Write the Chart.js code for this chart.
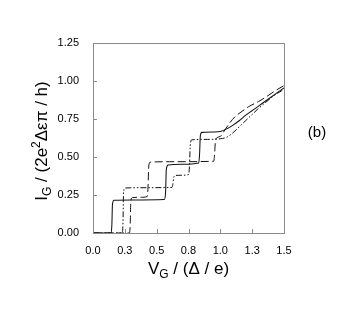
<!DOCTYPE html>
<html>
<head>
<meta charset="utf-8">
<script src="https://cdn.jsdelivr.net/npm/chart.js@4.4.0/dist/chart.umd.min.js"></script>
<style>
html,body{margin:0;padding:0;background:#fff;}
#wrap{width:354px;height:316px;position:relative;}
</style>
</head>
<body>
<div id="wrap"><canvas id="c" width="354" height="316"></canvas></div>
<script>
// ---- data ----
const xTickLabels = ['0.0','0.3','0.5','0.8','1.0','1.3','1.5'];
const yTickLabels = ['0.00','0.25','0.50','0.75','1.00','1.25'];

const solidX = [0, 0.14, 0.148, 0.153, 0.165, 0.3, 0.56, 0.57, 0.576, 0.59, 0.7, 0.83, 0.837, 0.843, 0.855, 0.95, 1.0, 1.05, 1.1, 1.15, 1.2, 1.25, 1.3, 1.35, 1.4, 1.45, 1.5];
const solidY = [0, 0, 0.05, 0.19, 0.215, 0.217, 0.22, 0.27, 0.42, 0.448, 0.452, 0.46, 0.52, 0.64, 0.662, 0.665, 0.668, 0.685, 0.71, 0.74, 0.775, 0.805, 0.835, 0.865, 0.895, 0.925, 0.955];

const dotX = [0, 0.228, 0.235, 0.24, 0.252, 0.4, 0.62, 0.627, 0.633, 0.645, 0.7, 0.752, 0.758, 0.765, 0.777, 0.9, 1.0, 1.05, 1.1, 1.15, 1.2, 1.25, 1.3, 1.35, 1.4, 1.45, 1.5];
const dotY = [0, 0, 0.05, 0.27, 0.296, 0.298, 0.3, 0.32, 0.36, 0.378, 0.38, 0.385, 0.45, 0.59, 0.613, 0.616, 0.62, 0.63, 0.66, 0.70, 0.74, 0.78, 0.82, 0.855, 0.89, 0.92, 0.945];

const dashX = [0, 0.285, 0.292, 0.297, 0.31, 0.38, 0.425, 0.432, 0.438, 0.45, 0.6, 0.948, 0.955, 0.961, 0.975, 1.0, 1.03, 1.07, 1.115, 1.17, 1.22, 1.3, 1.35, 1.42, 1.5];
const dashY = [0, 0, 0.05, 0.21, 0.233, 0.235, 0.24, 0.3, 0.44, 0.466, 0.469, 0.472, 0.52, 0.6, 0.628, 0.635, 0.67, 0.72, 0.765, 0.80, 0.83, 0.865, 0.89, 0.93, 0.97];

const panelLabel = '(b)';

const FONT = '"Liberation Sans", Arial, Helvetica, sans-serif';
const zip = (xs, ys) => xs.map((x, i) => ({x: x, y: ys[i]}));

const frameTicks = {
  id: 'frameTicks',
  afterDatasetsDraw(chart) {
    const {ctx, chartArea: a, scales} = chart;
    ctx.save();
    ctx.strokeStyle = '#8a8a8a';
    ctx.lineWidth = 1;
    ctx.strokeRect(Math.round(a.left) + 0.5, Math.round(a.top) + 0.5, Math.round(a.right - a.left), Math.round(a.bottom - a.top));
    ctx.beginPath();
    scales.x.ticks.forEach(t => {
      const px = Math.round(scales.x.getPixelForValue(t.value)) + 0.5;
      ctx.moveTo(px, a.bottom); ctx.lineTo(px, a.bottom - 4);
    });
    scales.y.ticks.forEach(t => {
      const py = Math.round(scales.y.getPixelForValue(t.value)) + 0.5;
      ctx.moveTo(a.left, py); ctx.lineTo(a.left + 4, py);
    });
    ctx.stroke();
    ctx.restore();
  },
  afterDraw(chart) {
    const {ctx, chartArea: a} = chart;
    const drawRich = (pieces, cx, cy, rot) => {
      ctx.save();
      ctx.translate(cx, cy);
      ctx.rotate(rot);
      ctx.fillStyle = '#000';
      ctx.textBaseline = 'alphabetic';
      ctx.textAlign = 'left';
      let w = 0;
      pieces.forEach(p => { ctx.font = p.size + 'px ' + FONT; w += ctx.measureText(p.t).width; });
      let x = -w / 2;
      pieces.forEach(p => { ctx.font = p.size + 'px ' + FONT; ctx.fillText(p.t, x, 6 + (p.dy || 0)); x += ctx.measureText(p.t).width; });
      ctx.restore();
    };
    drawRich([{t: 'V', size: 17}, {t: 'G', size: 12, dy: 4}, {t: ' / (Δ / e)', size: 17}], (a.left + a.right) / 2, 268, 0);
    drawRich([{t: 'I', size: 17}, {t: 'G', size: 12, dy: 4}, {t: ' / (2e', size: 17}, {t: '2', size: 12, dy: -7}, {t: 'Δεπ / h)', size: 17}], 41, (a.top + a.bottom) / 2 + 3, -Math.PI / 2);
    ctx.save();
    ctx.font = '15px ' + FONT;
    ctx.fillStyle = '#000';
    ctx.textAlign = 'center';
    ctx.textBaseline = 'middle';
    ctx.fillText(panelLabel, 317, 133);
    ctx.restore();
  }
};

const lineDs = (label, data, dash, w) => ({
  label: label, data: data, borderColor: '#111', borderWidth: w, borderDash: dash,
  pointRadius: 0, fill: false, cubicInterpolationMode: 'monotone'
});

new Chart(document.getElementById('c'), {
  type: 'line',
  data: {
    datasets: [
      lineDs('solid', zip(solidX, solidY), [], 1.05),
      lineDs('dash-dot-dot', zip(dotX, dotY), [6, 2, 1.5, 2, 1.5, 2], 1),
      lineDs('dashed', zip(dashX, dashY), [8, 3.5], 1)
    ]
  },
  options: {
    responsive: false,
    animation: false,
    devicePixelRatio: 1,
    layout: {padding: {left: 0, top: 43, right: 70, bottom: 0}},
    plugins: {legend: {display: false}, tooltip: {enabled: false}},
    scales: {
      x: {
        type: 'linear', min: 0, max: 1.5,
        grid: {display: false}, border: {display: false},
        afterBuildTicks: s => { s.ticks = xTickLabels.map((l, i) => ({value: i * 0.25})); },
        afterFit: s => { s.height = 83; },
        ticks: {color: '#000', font: {size: 11, family: FONT}, padding: 3, maxRotation: 0, autoSkip: false,
          callback: (v, i) => xTickLabels[i]}
      },
      y: {
        min: 0, max: 1.25,
        grid: {display: false}, border: {display: false},
        afterBuildTicks: s => { s.ticks = yTickLabels.map((l, i) => ({value: i * 0.25})); },
        afterFit: s => { s.width = 93; },
        ticks: {color: '#000', font: {size: 11, family: FONT}, padding: 6, autoSkip: false,
          callback: (v, i) => yTickLabels[i]}
      }
    }
  },
  plugins: [frameTicks]
});
</script>
</body>
</html>
